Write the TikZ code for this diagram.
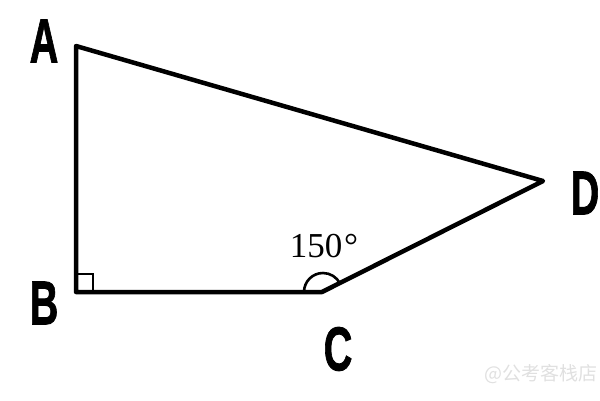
\documentclass[tikz,border=0pt]{standalone}
\usepackage{fontspec}
\usetikzlibrary{calc}
\setmainfont{Liberation Serif}
\newfontfamily\lblfont[FakeBold=1.5]{Liberation Sans Bold}
\newfontfamily\cjkfont{Noto Sans CJK SC}
\begin{document}
\begin{tikzpicture}[x=1pt,y=-1pt,
  edge/.style={line width=4.5pt,line join=round,line cap=round},
  thinmark/.style={line width=2.6pt},
  ptlabel/.style={font=\lblfont\fontsize{62}{62}\selectfont,xscale=0.64,inner sep=0pt},
  anglelabel/.style={font=\fontsize{35}{35}\selectfont,inner sep=0pt},
  wm/.style={font=\cjkfont\fontsize{19}{19}\selectfont,text=black!12,inner sep=0pt}]
\useasboundingbox (0,0) rectangle (600,400);
\coordinate (A) at (76,46);
\coordinate (B) at (76,292);
\coordinate (C) at (322,292);
\coordinate (D) at (543,181);
\draw[edge] (A) -- (B) -- (C) -- (D) -- cycle;
\draw[thinmark] ($(B)+(0,-18)$) -- ++(17,0) -- ++(0,18);
\draw[thinmark] ($(C)+(-18,0)$) arc[start angle=180,end angle=333,radius=19];
\node[ptlabel] (lA) at (44,41) {A};
\node[ptlabel] (lB) at (44,303) {B};
\node[ptlabel] (lC) at (338,349) {C};
\node[ptlabel] (lD) at (585,193) {D};
\node[anglelabel] (ang) at (324,246) {150\kern2pt°};
\node[wm,anchor=east] (wmk) at (598,374) {@公考客栈店};
\end{tikzpicture}
\end{document}
